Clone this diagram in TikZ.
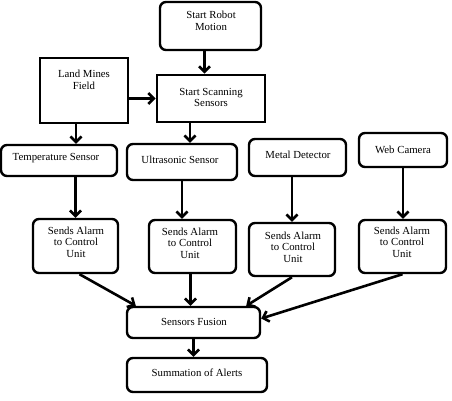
\documentclass[tikz,border=0pt]{standalone}
\usepackage{fontspec}
\setmainfont{Liberation Serif}
\usetikzlibrary{arrows.meta}
\begin{document}
\begin{tikzpicture}[x=1pt,y=-1pt,
  rbox/.style={draw, line width=2.4pt, rounded corners=6pt, inner sep=0pt},
  sbox/.style={draw, line width=2.8pt, inner sep=0pt},
  txt/.style={font=\fontsize{10.8}{11.5}\selectfont, align=center, inner sep=0pt},
  arr/.style={line width=2.6pt, -{Straight Barb[length=5.5pt,width=11pt,line width=2.6pt]}}]
\useasboundingbox (0,0) rectangle (452,400);
% boxes
\node[rbox, minimum width=101pt, minimum height=48pt] (robot) at (210.5,26) {};
\node[sbox, minimum width=88pt, minimum height=65pt] (land) at (84,90.5) {};
\node[sbox, minimum width=108pt, minimum height=47pt] (scan) at (211,98.5) {};
\node[rbox, minimum width=116pt, minimum height=31pt] (temp) at (59,160.5) {};
\node[rbox, minimum width=110pt, minimum height=36pt] (ultra) at (182,162) {};
\node[rbox, minimum width=97pt, minimum height=37pt] (metal) at (297.5,157.5) {};
\node[rbox, minimum width=88pt, minimum height=34pt] (web) at (403,150) {};
\node[rbox, minimum width=85pt, minimum height=54pt] (s1) at (75.5,246) {};
\node[rbox, minimum width=87pt, minimum height=53pt] (s2) at (192.5,246.5) {};
\node[rbox, minimum width=86pt, minimum height=53pt] (s3) at (292,249.5) {};
\node[rbox, minimum width=87pt, minimum height=53pt] (s4) at (402.5,246.5) {};
\node[rbox, minimum width=133pt, minimum height=31pt] (fus) at (193.5,322.5) {};
\node[rbox, minimum width=140pt, minimum height=34pt] (sum) at (197,375) {};
% texts
\node[txt] (trobot) at (211,21) {Start Robot\\Motion};
\node[txt] (tland) at (84,80) {Land Mines\\Field};
\node[txt] (tscan) at (211,97.5) {Start Scanning\\Sensors};
\node[txt] (ttemp) at (56,158.5) {Temperature Sensor};
\node[txt] (tultra) at (180,159.5) {Ultrasonic Sensor};
\node[txt] (tmetal) at (298,154.5) {Metal Detector};
\node[txt] (tweb) at (403,149.5) {Web Camera};
\node[txt] (ts1) at (76,242) {Sends Alarm\\to Control\\Unit};
\node[txt] (ts2) at (190,243) {Sends Alarm\\to Control\\Unit};
\node[txt] (ts3) at (293,247) {Sends Alarm\\to Control\\Unit};
\node[txt] (ts4) at (402,242) {Sends Alarm\\to Control\\Unit};
\node[txt] (tfus) at (194,322) {Sensors Fusion};
\node[txt] (tsum) at (197,372.5) {Summation of Alerts};
% connectors
\draw[arr] ([xshift=-6pt]robot.south) -- ([xshift=-6pt]robot.south |- scan.north);
\draw[arr] (land.east |- scan) -- (scan.west);
\draw[arr] ([xshift=-8pt]land.south) -- ([xshift=-8pt]land.south |- temp.north);
\draw[arr] ([xshift=-21pt]scan.south) -- ([xshift=-21pt]scan.south |- ultra.north);
\draw[arr] (temp.south -| s1.north) -- (s1.north);
\draw[arr] (ultra.south) -- (ultra.south |- s2.north);
\draw[arr] (metal.south -| s3.north) -- (s3.north);
\draw[arr] (web.south) -- (web.south |- s4.north);
\draw[arr] ([xshift=4pt]s1.south) -- ([xshift=10pt]fus.north west);
\draw[arr] ([xshift=-2pt]s2.south) -- ([xshift=-2pt]s2.south |- fus.north);
\draw[arr] (s3.south) -- ([xshift=-15pt]fus.north east);
\draw[arr] (s4.south) -- ([yshift=4pt]fus.east);
\draw[arr] (fus.south) -- (fus.south |- sum.north);
\end{tikzpicture}
\end{document}
